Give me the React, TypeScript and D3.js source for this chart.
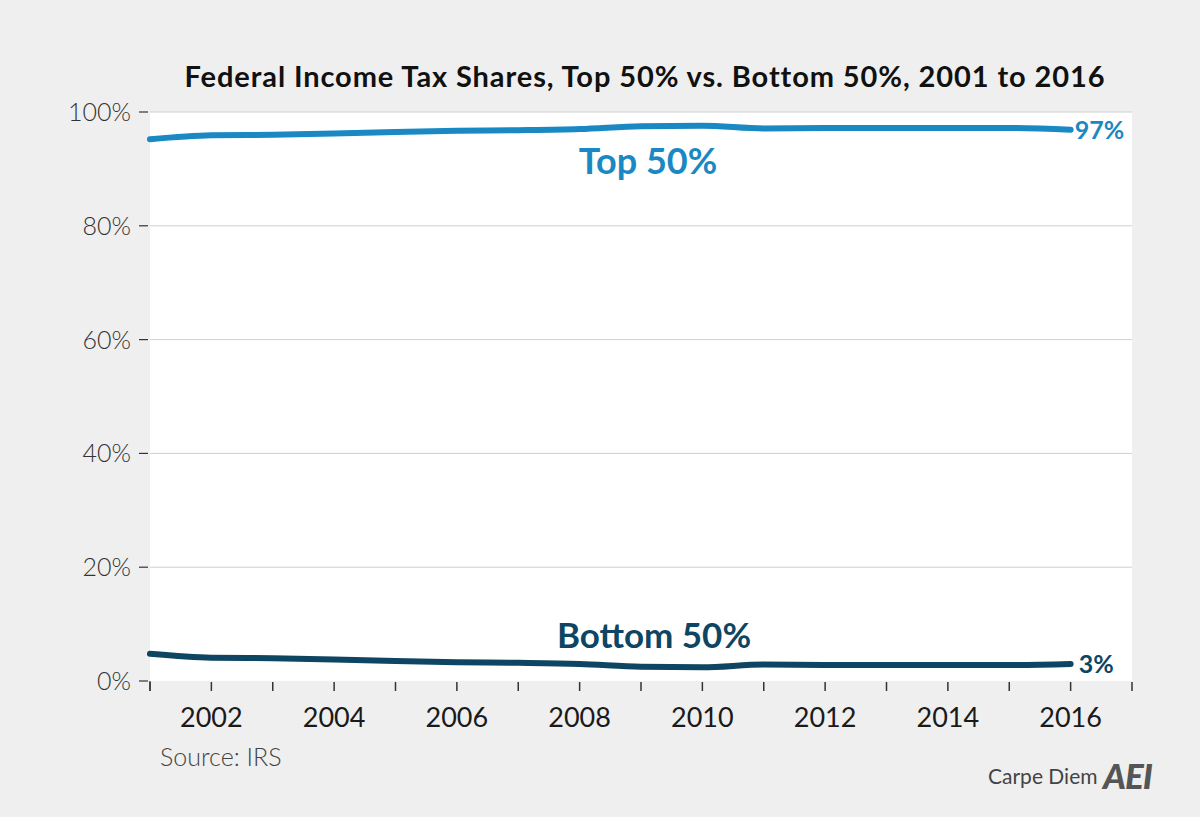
import React from "react";
import * as d3 from "d3";

const years = [2001, 2002, 2003, 2004, 2005, 2006, 2007, 2008, 2009, 2010, 2011, 2012, 2013, 2014, 2015, 2016];
const top50 = [95.2, 95.9, 96.0, 96.2, 96.5, 96.7, 96.8, 97.0, 97.5, 97.6, 97.1, 97.2, 97.2, 97.2, 97.2, 96.9];
const bottom50 = [4.8, 4.1, 4.0, 3.8, 3.5, 3.3, 3.2, 3.0, 2.5, 2.4, 2.9, 2.8, 2.8, 2.8, 2.8, 3.0];
const yTicks = [0, 20, 40, 60, 80, 100];
const xLabelYears = [2002, 2004, 2006, 2008, 2010, 2012, 2014, 2016];
const xTickYears = d3.range(2001, 2018);

const title = "Federal Income Tax Shares, Top 50% vs. Bottom 50%, 2001 to 2016";

export default function App() {
  const W = 1200, H = 817;
  const x = d3.scaleLinear().domain([2001, 2017]).range([150, 1132]);
  const y = d3.scaleLinear().domain([0, 100]).range([681, 112]);
  const line = d3
    .line<number>()
    .x((_, i) => x(years[i]))
    .y((d) => y(d))
    .curve(d3.curveMonotoneX);

  const topColor = "#1a88c2";
  const botColor = "#0d4563";
  const font = "Lato, 'Open Sans', sans-serif";

  return (
    <svg width={W} height={H} style={{ position: "absolute", left: 0, top: 0, background: "#efefef" }}>
      <rect x={0} y={0} width={W} height={H} fill="#efefef" />
      <text x={645} y={87} textAnchor="middle" fontFamily={font} fontWeight={700} fontSize={29} letterSpacing={0.9} fill="#111">
        {title}
      </text>
      <rect x={x(2001)} y={y(100)} width={x(2017) - x(2001)} height={y(0) - y(100)} fill="#ffffff" />
      {yTicks.map((t) => (
        <g key={t}>
          {t > 0 && <line x1={x(2001)} x2={x(2017)} y1={y(t)} y2={y(t)} stroke="#cfcfcf" strokeWidth={1} />}
          <line x1={139} x2={148} y1={y(t)} y2={y(t)} stroke="#333" strokeWidth={1.2} />
          <text x={131} y={y(t) + 9} textAnchor="end" fontFamily={font} fontWeight={300} fontSize={25} fill="#333">
            {t}%
          </text>
        </g>
      ))}
      <line x1={x(2001)} x2={x(2001)} y1={y(0)} y2={y(0) + 10} stroke="#333" strokeWidth={1.2} />
      {xTickYears.map((yr) => (
        <line key={yr} x1={x(yr)} x2={x(yr)} y1={y(0) + 1} y2={y(0) + 10} stroke="#333" strokeWidth={1.5} />
      ))}
      {xLabelYears.map((yr) => (
        <text key={yr} x={x(yr)} y={727} textAnchor="middle" fontFamily={font} fontSize={27} fill="#1a1a1a">
          {yr}
        </text>
      ))}
      <path d={line(top50) || ""} fill="none" stroke={topColor} strokeWidth={6} strokeLinecap="round" />
      <path d={line(bottom50) || ""} fill="none" stroke={botColor} strokeWidth={6} strokeLinecap="round" />
      <text x={648} y={174} textAnchor="middle" fontFamily={font} fontWeight={700} fontSize={36} fill={topColor}>
        Top 50%
      </text>
      <text x={654} y={648} textAnchor="middle" fontFamily={font} fontWeight={700} fontSize={35} fill={botColor}>
        Bottom 50%
      </text>
      <text x={x(2016) + 4} y={y(top50[15]) + 9} fontFamily={font} fontWeight={700} fontSize={25} fill={topColor}>
        97%
      </text>
      <text x={x(2016) + 8} y={y(bottom50[15]) + 9} fontFamily={font} fontWeight={700} fontSize={25} fill={botColor}>
        3%
      </text>
      <text x={160} y={766} fontFamily={font} fontWeight={300} fontSize={25} fill="#444">
        Source: IRS
      </text>
      <text x={988} y={784} fontFamily={font} fontSize={21} fill="#444">
        Carpe Diem
      </text>
      <text x={1103} y={789} fontFamily={font} fontWeight={900} fontStyle="italic" fontSize={35} fill="#555" letterSpacing={-1}>
        AEI
      </text>
    </svg>
  );
}
